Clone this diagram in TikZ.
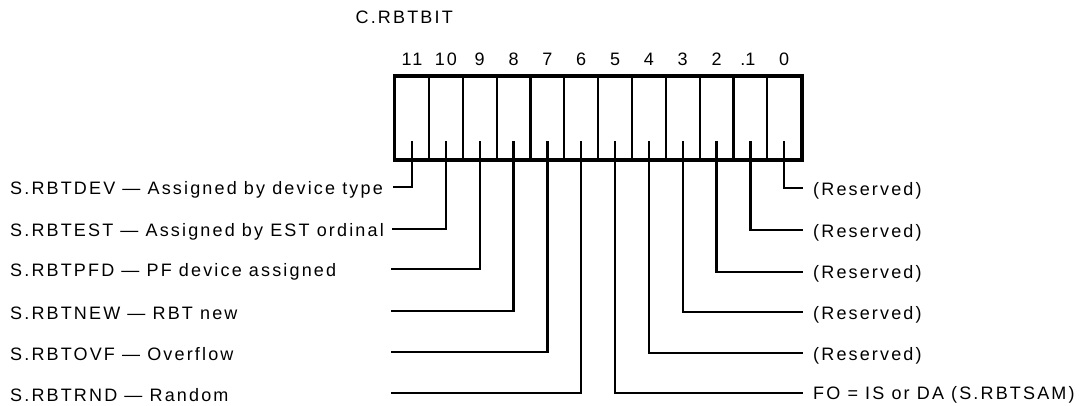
\documentclass[tikz,border=0pt]{standalone}
\usepackage{fontspec}
\setmainfont{Liberation Sans}[LetterSpace=12]
\begin{document}
\begin{tikzpicture}[x=1pt,y=-1pt,
  lbl/.style={font=\fontsize{18}{20}\selectfont, inner sep=0pt},
  bitnum/.style={lbl, anchor=center},
  cellbox/.style={draw, line width=2.3pt, minimum width=33.833pt, minimum height=82pt, inner sep=0pt, anchor=north west},
  frame/.style={draw, line width=3pt},
  wire/.style={line width=2.4pt}]
\useasboundingbox (0,0) rectangle (1082,406);
% title
\node[lbl, anchor=east] (title) at (453,17) {C.RBTBIT};
% cells
\foreach \b in {0,...,11}{
  \pgfmathsetmacro{\xl}{394+(11-\b)*33.833}
  \node[cellbox] (c\b) at (\xl,76) {};
  \coordinate (t\b) at ([yshift=19pt]c\b.south);
}
\draw[frame] (c11.north west) rectangle (c0.south east);
% bit numbers
\foreach \b in {0,2,3,...,11}{
  \node[bitnum] (n\b) at ([yshift=17pt]c\b.north) {\b};
}
\node[bitnum] (n1) at ([yshift=17pt]c1.north) {\llap{.}1};
% left labels
\node[lbl, anchor=west] (l11) at (10,190) {S.RBTDEV --- Assigned by device type};
\node[lbl, anchor=west] (l10) at (10,231.5) {S.RBTEST --- Assigned by EST ordinal};
\node[lbl, anchor=west] (l9) at (10,271.5) {S.RBTPFD --- PF device assigned};
\node[lbl, anchor=west] (l8) at (10,313.5) {S.RBTNEW --- RBT new};
\node[lbl, anchor=west] (l7) at (10,354.5) {S.RBTOVF --- Overflow};
\node[lbl, anchor=west] (l6) at (10,395.5) {S.RBTRND --- Random};
\coordinate (e11) at (393,187);
\coordinate (e10) at (392,229);
\coordinate (e9) at (391,269);
\coordinate (e8) at (391,311);
\coordinate (e7) at (391,352);
\coordinate (e6) at (391,393);
% right labels
\node[lbl, anchor=west] (r0) at (813,191) {(Reserved)};
\node[lbl, anchor=west] (r1) at (813,232.5) {(Reserved)};
\node[lbl, anchor=west] (r2) at (813,274) {(Reserved)};
\node[lbl, anchor=west] (r3) at (813,314.5) {(Reserved)};
\node[lbl, anchor=west] (r4) at (813,355.5) {(Reserved)};
\node[lbl, anchor=west] (r5) at (813,395) {FO = IS or DA (S.RBTSAM)};
\coordinate (f0) at (803,188);
\coordinate (f1) at (803,230);
\coordinate (f2) at (803,272);
\coordinate (f3) at (803,312);
\coordinate (f4) at (803,353);
\coordinate (f5) at (803,393);
% wires
\foreach \b in {6,...,11}{
  \draw[wire] (t\b) |- (e\b);
}
\foreach \b in {0,...,5}{
  \draw[wire] (t\b) |- (f\b);
}
\end{tikzpicture}
\end{document}
